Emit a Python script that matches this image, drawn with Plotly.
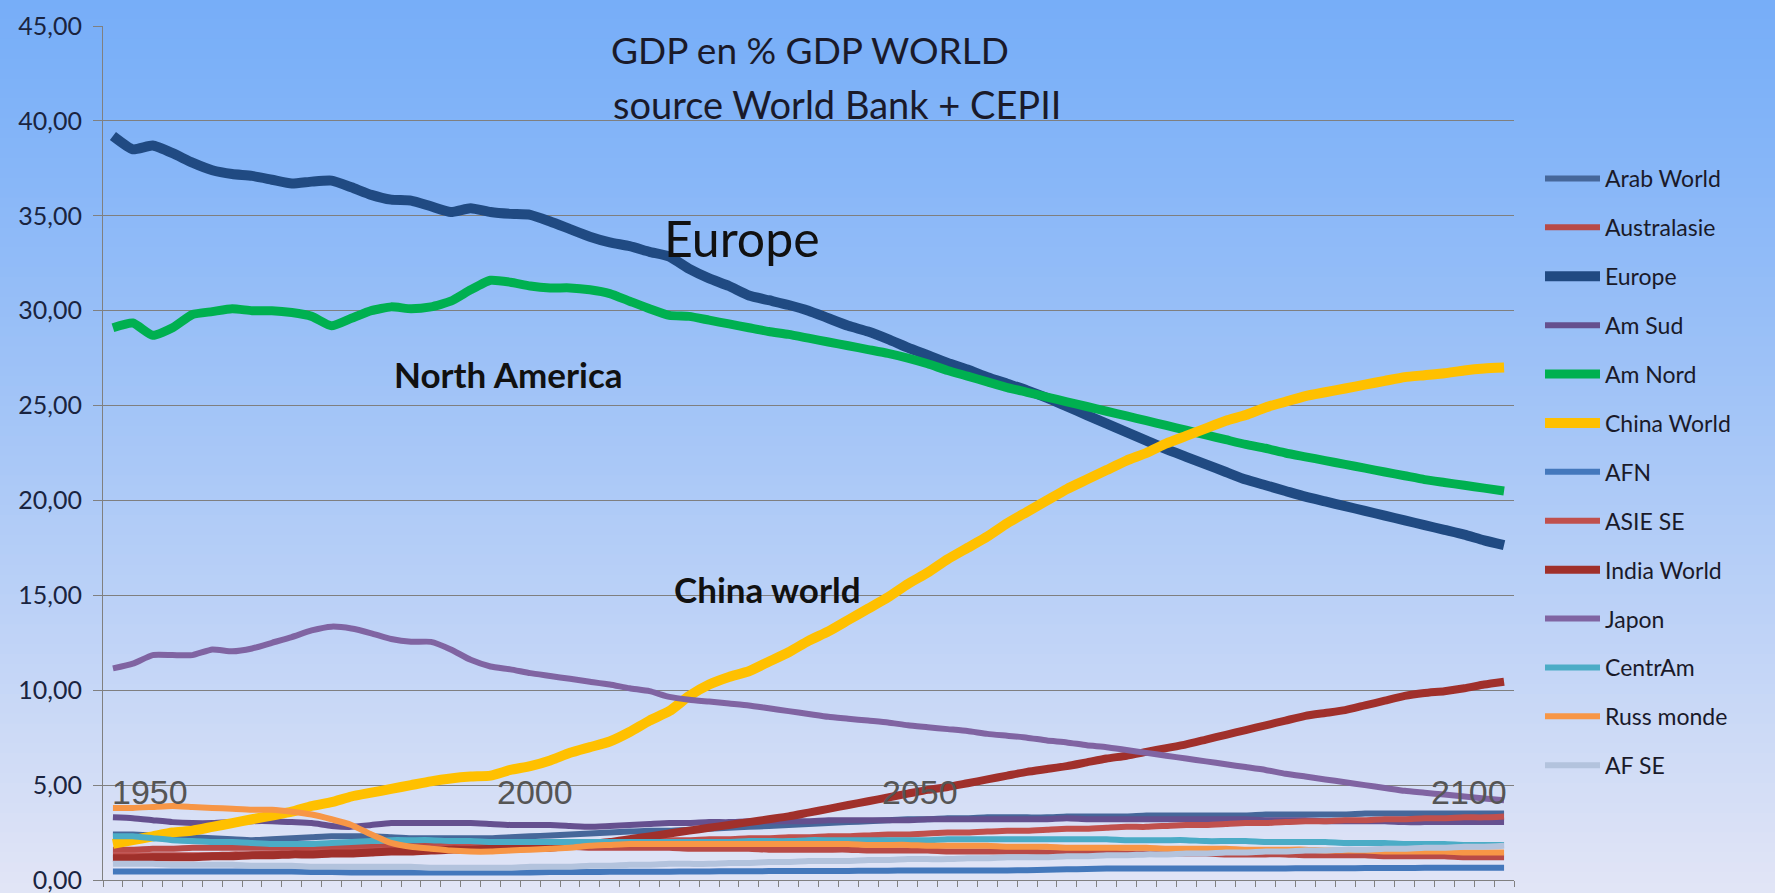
import plotly.graph_objects as go

# ---------------- data (GDP as % of world GDP) ----------------
years = list(range(1960, 2101, 2))

arab_world = [2.4, 2.4, 2.35, 2.3, 2.25, 2.2, 2.15, 2.1, 2.15, 2.2,
              2.25, 2.3, 2.3, 2.3, 2.25, 2.2, 2.2, 2.2, 2.2, 2.2,
              2.25, 2.3, 2.35, 2.4, 2.45, 2.5, 2.55, 2.6, 2.6, 2.65,
              2.7, 2.75, 2.8, 2.85, 2.9, 2.95, 3.0, 3.05, 3.1, 3.15,
              3.2, 3.2, 3.25, 3.25, 3.3, 3.3, 3.3, 3.3, 3.35, 3.35,
              3.35, 3.35, 3.4, 3.4, 3.4, 3.4, 3.4, 3.4, 3.45, 3.45,
              3.45, 3.45, 3.45, 3.5, 3.5, 3.5, 3.5, 3.5, 3.5, 3.5, 3.5]

australasie = [1.6, 1.6, 1.65, 1.65, 1.7, 1.7, 1.7, 1.7, 1.7, 1.7,
               1.7, 1.7, 1.75, 1.75, 1.8, 1.8, 1.8, 1.8, 1.8, 1.75,
               1.75, 1.75, 1.75, 1.75, 1.7, 1.7, 1.7, 1.7, 1.7, 1.65,
               1.65, 1.65, 1.65, 1.6, 1.6, 1.6, 1.6, 1.6, 1.55, 1.55,
               1.55, 1.55, 1.5, 1.5, 1.5, 1.5, 1.5, 1.45, 1.45, 1.45,
               1.45, 1.4, 1.4, 1.4, 1.4, 1.4, 1.35, 1.35, 1.35, 1.35,
               1.3, 1.3, 1.3, 1.3, 1.25, 1.25, 1.25, 1.25, 1.2, 1.2, 1.2]

europe = [39.2, 38.5, 38.7, 38.3, 37.8, 37.4, 37.2, 37.1, 36.9, 36.7,
          36.8, 36.85, 36.5, 36.1, 35.85, 35.8, 35.5, 35.2, 35.4, 35.2,
          35.1, 35.05, 34.7, 34.3, 33.9, 33.6, 33.4, 33.1, 32.85, 32.2,
          31.7, 31.3, 30.8, 30.55, 30.3, 30.0, 29.6, 29.2, 28.9, 28.5,
          28.05, 27.65, 27.25, 26.9, 26.5, 26.15, 25.8, 25.4, 24.95, 24.5,
          24.05, 23.6, 23.15, 22.7, 22.3, 21.9, 21.5, 21.1, 20.8, 20.5,
          20.2, 19.95, 19.7, 19.45, 19.2, 18.95, 18.7, 18.45, 18.2, 17.9, 17.65]

am_sud = [3.3, 3.25, 3.15, 3.05, 3.0, 3.0, 3.05, 3.1, 3.1, 3.05,
          3.0, 2.85, 2.8, 2.9, 3.0, 3.0, 3.0, 3.0, 3.0, 2.95,
          2.9, 2.9, 2.9, 2.85, 2.8, 2.85, 2.9, 2.95, 3.0, 3.0,
          3.05, 3.05, 3.1, 3.1, 3.1, 3.1, 3.15, 3.15, 3.15, 3.15,
          3.15, 3.2, 3.2, 3.2, 3.2, 3.2, 3.2, 3.2, 3.25, 3.2,
          3.2, 3.2, 3.2, 3.2, 3.2, 3.2, 3.2, 3.2, 3.15, 3.15,
          3.15, 3.1, 3.1, 3.1, 3.1, 3.05, 3.05, 3.05, 3.05, 3.05, 3.05]

am_nord = [29.1, 29.35, 28.7, 29.1, 29.8, 29.95, 30.1, 30.0, 30.0, 29.9,
           29.7, 29.2, 29.6, 30.0, 30.2, 30.1, 30.2, 30.5, 31.1, 31.6,
           31.5, 31.3, 31.2, 31.2, 31.1, 30.9, 30.5, 30.1, 29.75, 29.7,
           29.5, 29.3, 29.1, 28.9, 28.75, 28.55, 28.35, 28.15, 27.95, 27.75,
           27.5, 27.2, 26.85, 26.55, 26.25, 25.95, 25.7, 25.45, 25.2, 24.95,
           24.7, 24.45, 24.2, 23.95, 23.7, 23.45, 23.2, 22.95, 22.75, 22.5,
           22.3, 22.1, 21.9, 21.7, 21.5, 21.3, 21.1, 20.95, 20.8, 20.65, 20.5]

china_world = [1.9, 2.1, 2.3, 2.5, 2.6, 2.8, 3.0, 3.2, 3.4, 3.6,
               3.9, 4.1, 4.4, 4.6, 4.8, 5.0, 5.2, 5.35, 5.45, 5.5,
               5.8, 6.0, 6.3, 6.7, 7.0, 7.3, 7.8, 8.4, 8.9, 9.7,
               10.3, 10.7, 11.0, 11.5, 12.0, 12.6, 13.1, 13.7, 14.3, 14.9,
               15.6, 16.2, 16.9, 17.5, 18.1, 18.8, 19.4, 20.0, 20.6, 21.1,
               21.6, 22.1, 22.5, 23.0, 23.4, 23.8, 24.2, 24.5, 24.9, 25.2,
               25.5, 25.7, 25.9, 26.1, 26.3, 26.5, 26.6, 26.7, 26.85, 26.95, 27.0]

afn = [0.45, 0.45, 0.45, 0.45, 0.45, 0.45, 0.45, 0.45, 0.45, 0.45,
       0.42, 0.42, 0.4, 0.4, 0.4, 0.4, 0.4, 0.4, 0.4, 0.4,
       0.4, 0.4, 0.42, 0.42, 0.42, 0.43, 0.43, 0.44, 0.44, 0.45,
       0.45, 0.46, 0.46, 0.47, 0.47, 0.48, 0.48, 0.48, 0.49, 0.49,
       0.5, 0.5, 0.5, 0.5, 0.5, 0.5, 0.52, 0.54, 0.56, 0.58,
       0.6, 0.6, 0.6, 0.6, 0.6, 0.6, 0.6, 0.61, 0.61, 0.61,
       0.62, 0.62, 0.62, 0.63, 0.63, 0.63, 0.64, 0.64, 0.64, 0.65, 0.65]

asie_se = [1.3, 1.3, 1.3, 1.3, 1.3, 1.3, 1.35, 1.35, 1.4, 1.4,
           1.45, 1.5, 1.5, 1.55, 1.6, 1.65, 1.7, 1.75, 1.8, 1.75,
           1.8, 1.85, 1.9, 1.95, 2.0, 2.0, 2.05, 2.05, 2.1, 2.1,
           2.15, 2.15, 2.2, 2.2, 2.25, 2.25, 2.3, 2.3, 2.35, 2.4,
           2.4, 2.45, 2.5, 2.5, 2.55, 2.6, 2.6, 2.65, 2.7, 2.7,
           2.75, 2.8, 2.8, 2.85, 2.9, 2.9, 2.95, 3.0, 3.0, 3.05,
           3.1, 3.1, 3.15, 3.15, 3.2, 3.2, 3.25, 3.25, 3.3, 3.3, 3.35]

india_world = [1.15, 1.15, 1.2, 1.2, 1.2, 1.25, 1.25, 1.3, 1.3, 1.35,
               1.35, 1.4, 1.4, 1.45, 1.5, 1.5, 1.55, 1.6, 1.6, 1.65,
               1.65, 1.7, 1.7, 1.8, 1.9, 2.0, 2.15, 2.3, 2.45, 2.6,
               2.75, 2.9, 3.05, 3.2, 3.35, 3.55, 3.75, 3.95, 4.15, 4.35,
               4.55, 4.75, 4.9, 5.1, 5.3, 5.5, 5.7, 5.85, 6.0, 6.2,
               6.4, 6.55, 6.75, 6.95, 7.15, 7.4, 7.65, 7.9, 8.15, 8.4,
               8.65, 8.8, 8.95, 9.2, 9.45, 9.7, 9.85, 9.95, 10.1, 10.3, 10.45]

japon = [11.15, 11.4, 11.85, 11.85, 11.85, 12.15, 12.05, 12.2, 12.5, 12.8,
         13.15, 13.35, 13.25, 13.0, 12.7, 12.55, 12.55, 12.15, 11.6, 11.25,
         11.1, 10.9, 10.75, 10.6, 10.45, 10.3, 10.1, 9.95, 9.65, 9.5,
         9.4, 9.3, 9.2, 9.05, 8.9, 8.75, 8.6, 8.5, 8.4, 8.3,
         8.15, 8.05, 7.95, 7.85, 7.7, 7.6, 7.5, 7.35, 7.25, 7.1,
         7.0, 6.85, 6.7, 6.55, 6.4, 6.25, 6.1, 5.95, 5.8, 5.6,
         5.45, 5.3, 5.15, 5.0, 4.85, 4.7, 4.6, 4.5, 4.4, 4.3, 4.2]

centr_am = [2.3, 2.3, 2.2, 2.1, 2.05, 2.0, 2.0, 1.95, 1.9, 1.9,
            1.9, 1.95, 2.0, 2.05, 2.1, 2.1, 2.1, 2.05, 2.05, 2.0,
            2.0, 2.0, 2.0, 2.0, 2.0, 2.0, 2.0, 2.0, 2.0, 2.0,
            2.0, 2.0, 2.05, 2.05, 2.05, 2.1, 2.1, 2.1, 2.1, 2.1,
            2.1, 2.1, 2.15, 2.15, 2.15, 2.15, 2.15, 2.15, 2.15, 2.15,
            2.15, 2.1, 2.1, 2.1, 2.1, 2.05, 2.05, 2.05, 2.0, 2.0,
            2.0, 2.0, 1.95, 1.95, 1.95, 1.9, 1.9, 1.9, 1.85, 1.85, 1.85]

russ_monde = [3.8, 3.8, 3.85, 3.9, 3.85, 3.8, 3.75, 3.7, 3.7, 3.6,
              3.45, 3.2, 2.9, 2.4, 1.95, 1.75, 1.65, 1.55, 1.5, 1.5,
              1.55, 1.6, 1.65, 1.7, 1.8, 1.85, 1.9, 1.9, 1.9, 1.9,
              1.9, 1.9, 1.9, 1.9, 1.9, 1.9, 1.9, 1.9, 1.85, 1.85,
              1.85, 1.8, 1.8, 1.8, 1.8, 1.75, 1.75, 1.75, 1.7, 1.7,
              1.7, 1.7, 1.7, 1.65, 1.65, 1.65, 1.65, 1.6, 1.6, 1.6,
              1.6, 1.55, 1.55, 1.55, 1.5, 1.5, 1.5, 1.5, 1.45, 1.45, 1.45]

af_se = [0.85, 0.85, 0.85, 0.8, 0.8, 0.8, 0.8, 0.75, 0.75, 0.75,
         0.7, 0.7, 0.7, 0.7, 0.7, 0.7, 0.65, 0.65, 0.65, 0.65,
         0.65, 0.7, 0.7, 0.7, 0.75, 0.75, 0.8, 0.8, 0.85, 0.85,
         0.85, 0.9, 0.9, 0.95, 0.95, 1.0, 1.0, 1.0, 1.05, 1.05,
         1.1, 1.1, 1.1, 1.15, 1.15, 1.2, 1.2, 1.2, 1.25, 1.25,
         1.3, 1.3, 1.35, 1.35, 1.4, 1.4, 1.45, 1.45, 1.5, 1.5,
         1.55, 1.55, 1.6, 1.6, 1.65, 1.65, 1.7, 1.7, 1.75, 1.75, 1.8]

series_names = ["Arab World", "Australasie", "Europe", "Am Sud", "Am Nord",
                "China World", "AFN", "ASIE SE", "India World", "Japon",
                "CentrAm", "Russ monde", "AF SE"]
series_values = [arab_world, australasie, europe, am_sud, am_nord,
                 china_world, afn, asie_se, india_world, japon,
                 centr_am, russ_monde, af_se]
series_colors = ["#46679A", "#B84A47", "#204A82", "#65508F", "#00B050",
                 "#FFC000", "#4478BC", "#C0504D", "#A0302B", "#8064A2",
                 "#4BACC6", "#F79646", "#B3C3DD"]
series_widths = [6, 6, 10, 6, 9, 10, 6, 6, 8, 6, 6, 6, 6]

year_labels = ["1950", "2000", "2050", "2100"]

# ---------------- figure ----------------
W, H = 1775, 893
ML, MR, MT, MB = 103, 261, 26, 13
PW, PH = W - ML - MR, H - MT - MB

fig = go.Figure()
for name, vals, col, wd in zip(series_names, series_values, series_colors, series_widths):
    fig.add_trace(go.Scatter(
        x=years, y=vals, name=name, mode="lines", legendgroup=name,
        line=dict(color=col, width=wd, shape="spline", smoothing=0.5),
    ))

# background gradient (blue top -> pale lavender bottom)
top = (0x77, 0xAE, 0xF8)
bot = (0xE2, 0xE5, 0xF6)
nb = 90
shapes = []
for k in range(nb):
    t = (k + 0.5) / nb
    tt = t ** 1.15
    c = tuple(int(round(top[j] + (bot[j] - top[j]) * tt)) for j in range(3))
    y_top = (H - MB - (k * H / nb)) / PH
    y_bot = (H - MB - ((k + 1) * H / nb)) / PH
    shapes.append(dict(type="rect", xref="paper", yref="paper",
                       x0=-ML / PW - 0.01, x1=(W - ML) / PW + 0.01,
                       y0=y_bot - 0.001, y1=y_top + 0.001,
                       fillcolor="rgb(%d,%d,%d)" % c, line=dict(width=0),
                       layer="below"))


def px_to_paper(xp, yp):
    return (xp - ML) / PW, (H - MB - yp) / PH


annotations = []


def add_text(text, xp, yp, size, family="Lato", color="#111111", xanchor="center"):
    ax, ay = px_to_paper(xp, yp)
    annotations.append(dict(text=text, x=ax, y=ay, xref="paper", yref="paper",
                            xanchor=xanchor, yanchor="middle", showarrow=False,
                            font=dict(family=family, size=size, color=color)))


add_text("Europe", 742, 238, 50)
add_text("<b>North America</b>", 509, 374, 35)
add_text("<b>China world</b>", 767, 589, 35)
for lab, xp in zip(year_labels, [150, 535, 920, 1469]):
    add_text(lab, xp, 792, 34, family="Liberation Sans", color="#555555")
# second title line
add_text("source World Bank + CEPII", 611, 104, 38, color="#1A1A2A", xanchor="left")

fig.update_layout(
    width=W, height=H,
    margin=dict(l=ML, r=MR, t=MT, b=MB, autoexpand=False),
    paper_bgcolor="#C8D8F4",
    plot_bgcolor="rgba(0,0,0,0)",
    separators=", ",
    shapes=shapes,
    annotations=annotations,
    title=dict(text="GDP en % GDP WORLD",
               xref="container", yref="container", x=611 / W, y=1 - 51 / H,
               xanchor="left", yanchor="middle",
               font=dict(family="Lato", size=37, color="#1A1A2A")),
    legend=dict(x=(1540 - ML) / PW, y=(H - MB - 157) / PH, xanchor="left", yanchor="top",
                bgcolor="rgba(0,0,0,0)", tracegroupgap=16, itemwidth=55,
                font=dict(family="Lato", size=23, color="#1A1A2A")),
    showlegend=True,
    xaxis=dict(range=[1959, 2101], tick0=1959, dtick=2, showticklabels=False,
               ticks="outside", ticklen=6, tickcolor="#808080",
               showgrid=False, showline=True, linecolor="#808080", linewidth=1,
               zeroline=False, fixedrange=True, automargin=False),
    yaxis=dict(range=[0, 45], dtick=5, tickformat=".2f",
               ticks="outside", ticklen=9, tickcolor="#808080",
               showgrid=True, gridcolor="#7F7F7F", gridwidth=1,
               showline=True, linecolor="#808080", linewidth=1, zeroline=False,
               ticklabelstandoff=6, automargin=False, ticklabeloverflow="allow",
               tickfont=dict(family="Lato", size=25, color="#1A2440")),
)

fig.write_html("out.html")
